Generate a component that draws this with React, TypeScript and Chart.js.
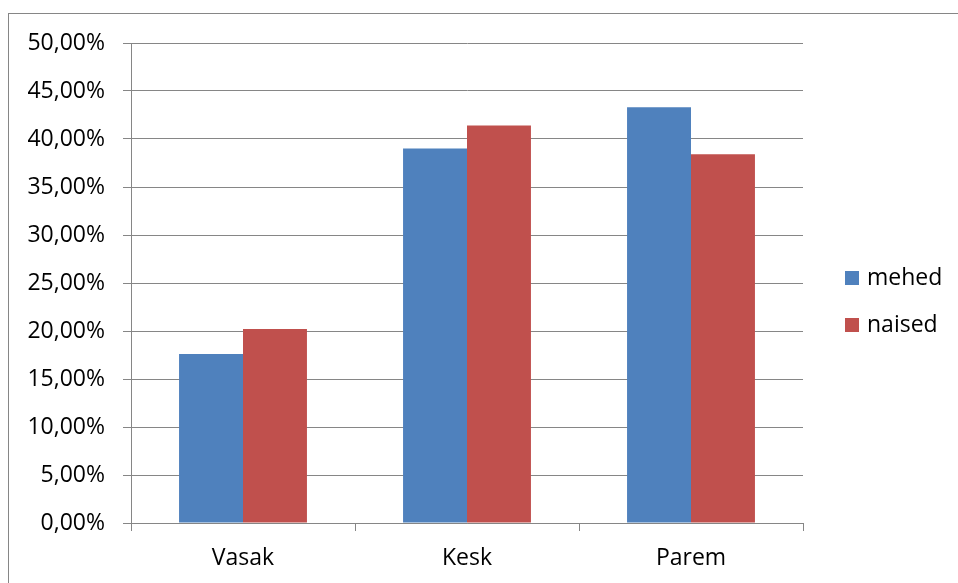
import React, { useEffect, useRef } from "react";
import { Chart, registerables } from "chart.js";

Chart.register(...registerables);

const categories = ["Vasak", "Kesk", "Parem"];
const seriesNames = ["mehed", "naised"];
const mehedValues = [17.6, 39.0, 43.3];
const naisedValues = [20.2, 41.4, 38.4];
const seriesColors = ["#4F81BD", "#C0504D"];
const yMax = 50;
const yStep = 5;

const FONT = "'Open Sans', 'Noto Sans', sans-serif";
const FONT_SIZE = 23;

const legendPlugin = {
  id: "sideLegend",
  afterDraw(chart: any) {
    const { ctx, chartArea } = chart;
    ctx.save();
    ctx.font = `${FONT_SIZE}px ${FONT}`;
    ctx.textBaseline = "middle";
    ctx.textAlign = "left";
    chart.data.datasets.forEach((ds: any, i: number) => {
      const cy = chartArea.top + 235 + i * 47;
      const x = chartArea.right + 42;
      ctx.fillStyle = ds.backgroundColor;
      ctx.fillRect(x, cy - 7, 14, 14);
      ctx.fillStyle = "#000000";
      ctx.fillText(ds.label, x + 22, cy);
    });
    ctx.restore();
  },
};

export default function App() {
  const ref = useRef<HTMLCanvasElement | null>(null);
  useEffect(() => {
    if (!ref.current) return;
    const chart = new Chart(ref.current, {
      type: "bar",
      data: {
        labels: categories,
        datasets: [
          { label: seriesNames[0], data: mehedValues, backgroundColor: seriesColors[0], borderWidth: 0 },
          { label: seriesNames[1], data: naisedValues, backgroundColor: seriesColors[1], borderWidth: 0 },
        ],
      },
      options: {
        responsive: false,
        animation: false,
        devicePixelRatio: 1,
        layout: { padding: { left: 0, top: 35, right: 155, bottom: 8 } },
        datasets: { bar: { categoryPercentage: 0.571, barPercentage: 1 } },
        plugins: {
          legend: { display: false },
          tooltip: { enabled: false },
          title: { display: false },
        },
        scales: {
          x: {
            grid: {
              display: true,
              drawOnChartArea: false,
              drawTicks: true,
              tickLength: 8,
              color: "#868686",
              lineWidth: 1,
              offset: true,
            },
            border: { display: true, color: "#868686", width: 1 },
            ticks: {
              color: "#000000",
              font: { family: FONT, size: FONT_SIZE },
              padding: 14,
              maxRotation: 0,
            },
            afterFit(scale: any) {
              scale.height = 52;
            },
          },
          y: {
            min: 0,
            max: yMax,
            grid: {
              color: "#868686",
              lineWidth: 1,
              drawTicks: true,
              tickLength: 8,
            },
            border: { display: true, color: "#868686", width: 1 },
            ticks: {
              stepSize: yStep,
              color: "#000000",
              font: { family: FONT, size: FONT_SIZE },
              padding: 18,
              callback: (v: any) => Number(v).toFixed(2).replace(".", ",") + "%",
            },
            afterFit(scale: any) {
              scale.width = 123;
            },
          },
        },
      },
      plugins: [legendPlugin],
    });
    return () => chart.destroy();
  }, []);

  return (
    <div>
      <div
        style={{
          position: "fixed",
          left: 8,
          top: 13,
          width: 2000,
          height: 2000,
          border: "1px solid #868686",
          boxSizing: "border-box",
        }}
      />
      <canvas
        ref={ref}
        width={950}
        height={575}
        style={{ position: "fixed", left: 8, top: 8, width: 950, height: 575 }}
      />
    </div>
  );
}
